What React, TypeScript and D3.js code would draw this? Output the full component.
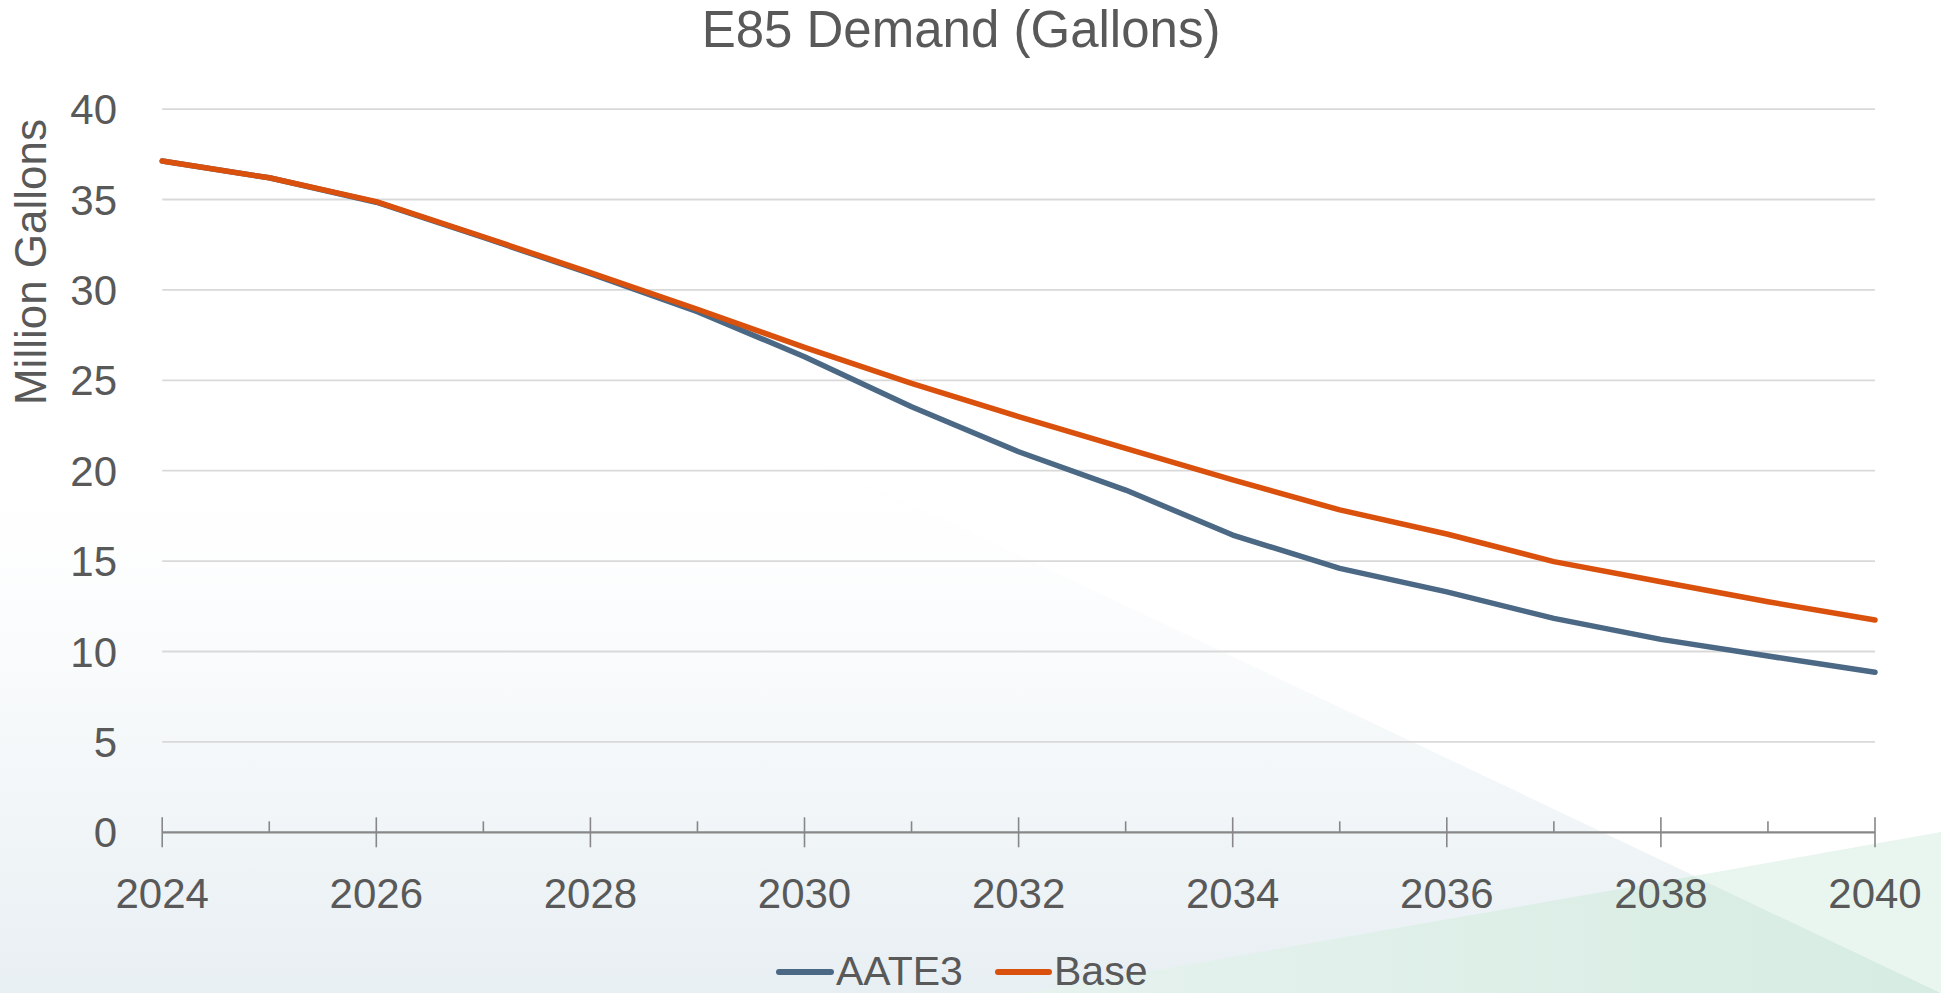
import React from "react";
import * as d3 from "d3";

const years: number[] = [2024, 2025, 2026, 2027, 2028, 2029, 2030, 2031, 2032, 2033, 2034, 2035, 2036, 2037, 2038, 2039, 2040];
const aate3: number[] = [37.13, 36.2, 34.85, 32.9, 30.9, 28.8, 26.3, 23.54, 21.05, 18.93, 16.44, 14.6, 13.3, 11.83, 10.67, 9.75, 8.85];
const base: number[] = [37.13, 36.2, 34.88, 32.94, 30.95, 28.93, 26.82, 24.83, 22.99, 21.24, 19.49, 17.83, 16.5, 14.97, 13.86, 12.75, 11.74];
const yTicks: number[] = [0, 5, 10, 15, 20, 25, 30, 35, 40];
const xLabelYears: number[] = [2024, 2026, 2028, 2030, 2032, 2034, 2036, 2038, 2040];
const seriesNames: string[] = ["AATE3", "Base"];
const seriesColors: string[] = ["#4B6885", "#DA500D"];

const W = 1941;
const H = 993;
const FONT = "'Liberation Sans', Arial, sans-serif";
const TXT = "#595959";

export default function App() {
  const x = d3.scaleLinear().domain([2024, 2040]).range([162.2, 1875]);
  const y = d3.scaleLinear().domain([0, 40]).range([832.3, 109.1]);
  const line = d3
    .line<number>()
    .x((_, i) => x(years[i]))
    .y((d) => y(d));
  const series = [aate3, base];
  const diagY = (xx: number) => 603 + 0.475 * (xx - 1120);

  return (
    <div>
      <style>{`body{margin:0;}`}</style>
      <svg width={W} height={H} style={{ display: "block" }} fontFamily={FONT}>
        <defs>
          <linearGradient id="tint" x1="0" y1="0" x2="0" y2={H} gradientUnits="userSpaceOnUse">
            <stop offset="0.4" stopColor="#FFFFFF" stopOpacity="0" />
            <stop offset="0.72" stopColor="#F6F9FA" stopOpacity="1" />
            <stop offset="1" stopColor="#E8EFF3" stopOpacity="1" />
          </linearGradient>
          <linearGradient id="green" x1="1027" y1="0" x2="1941" y2="0" gradientUnits="userSpaceOnUse">
            <stop offset="0" stopColor="#E6F2EE" />
            <stop offset="1" stopColor="#D6ECE2" />
          </linearGradient>
        </defs>
        <rect x={0} y={0} width={W} height={H} fill="#FFFFFF" />
        <polygon points={`0,${diagY(0)} ${W},${diagY(W)} ${W},${H} 0,${H}`} fill="url(#tint)" />
        <polygon points={`1027,993 1694,876 1941,${H}`} fill="url(#green)" />
        <polygon points={`1694,876 1941,832 1941,${H}`} fill="#E9F5EF" />

        {/* title */}
        <text x={961} y={47} textAnchor="middle" fontSize={51} fill={TXT}>
          E85 Demand (Gallons)
        </text>

        {/* gridlines */}
        {yTicks.filter((t) => t > 0).map((t) => (
          <line key={"g" + t} x1={x(2024)} x2={x(2040)} y1={y(t)} y2={y(t)} stroke="#D9D9D9" strokeWidth={1.8} />
        ))}

        {/* y tick labels */}
        {yTicks.map((t) => (
          <text key={"yl" + t} x={117} y={y(t)} dy="0.36em" textAnchor="end" fontSize={42} fill={TXT}>
            {t}
          </text>
        ))}

        {/* y axis title */}
        <text transform="translate(46,262) rotate(-90)" textAnchor="middle" fontSize={44} fill={TXT}>
          Million Gallons
        </text>

        {/* x axis */}
        <line x1={x(2024)} x2={x(2040)} y1={y(0)} y2={y(0)} stroke="#878787" strokeWidth={2.3} />
        {years.map((yr, i) =>
          i % 2 === 0 ? (
            <line key={"t" + yr} x1={x(yr)} x2={x(yr)} y1={y(0) - 15} y2={y(0) + 15} stroke="#878787" strokeWidth={1.6} />
          ) : (
            <line key={"t" + yr} x1={x(yr)} x2={x(yr)} y1={y(0) - 11} y2={y(0)} stroke="#878787" strokeWidth={1.6} />
          )
        )}
        {xLabelYears.map((yr) => (
          <text key={"xl" + yr} x={x(yr)} y={908} textAnchor="middle" fontSize={42} fill={TXT}>
            {yr}
          </text>
        ))}

        {/* series lines */}
        {series.map((s, i) => (
          <path
            key={seriesNames[i]}
            d={line(s) || ""}
            fill="none"
            stroke={seriesColors[i]}
            strokeWidth={5.5}
            strokeLinejoin="round"
            strokeLinecap="round"
          />
        ))}

        {/* legend */}
        <line x1={779} x2={831} y1={972} y2={972} stroke={seriesColors[0]} strokeWidth={6} strokeLinecap="round" />
        <text x={836} y={985} fontSize={41} fill={TXT}>
          {seriesNames[0]}
        </text>
        <line x1={998} x2={1049} y1={972} y2={972} stroke={seriesColors[1]} strokeWidth={6} strokeLinecap="round" />
        <text x={1054} y={985} fontSize={41} fill={TXT}>
          {seriesNames[1]}
        </text>
      </svg>
    </div>
  );
}
